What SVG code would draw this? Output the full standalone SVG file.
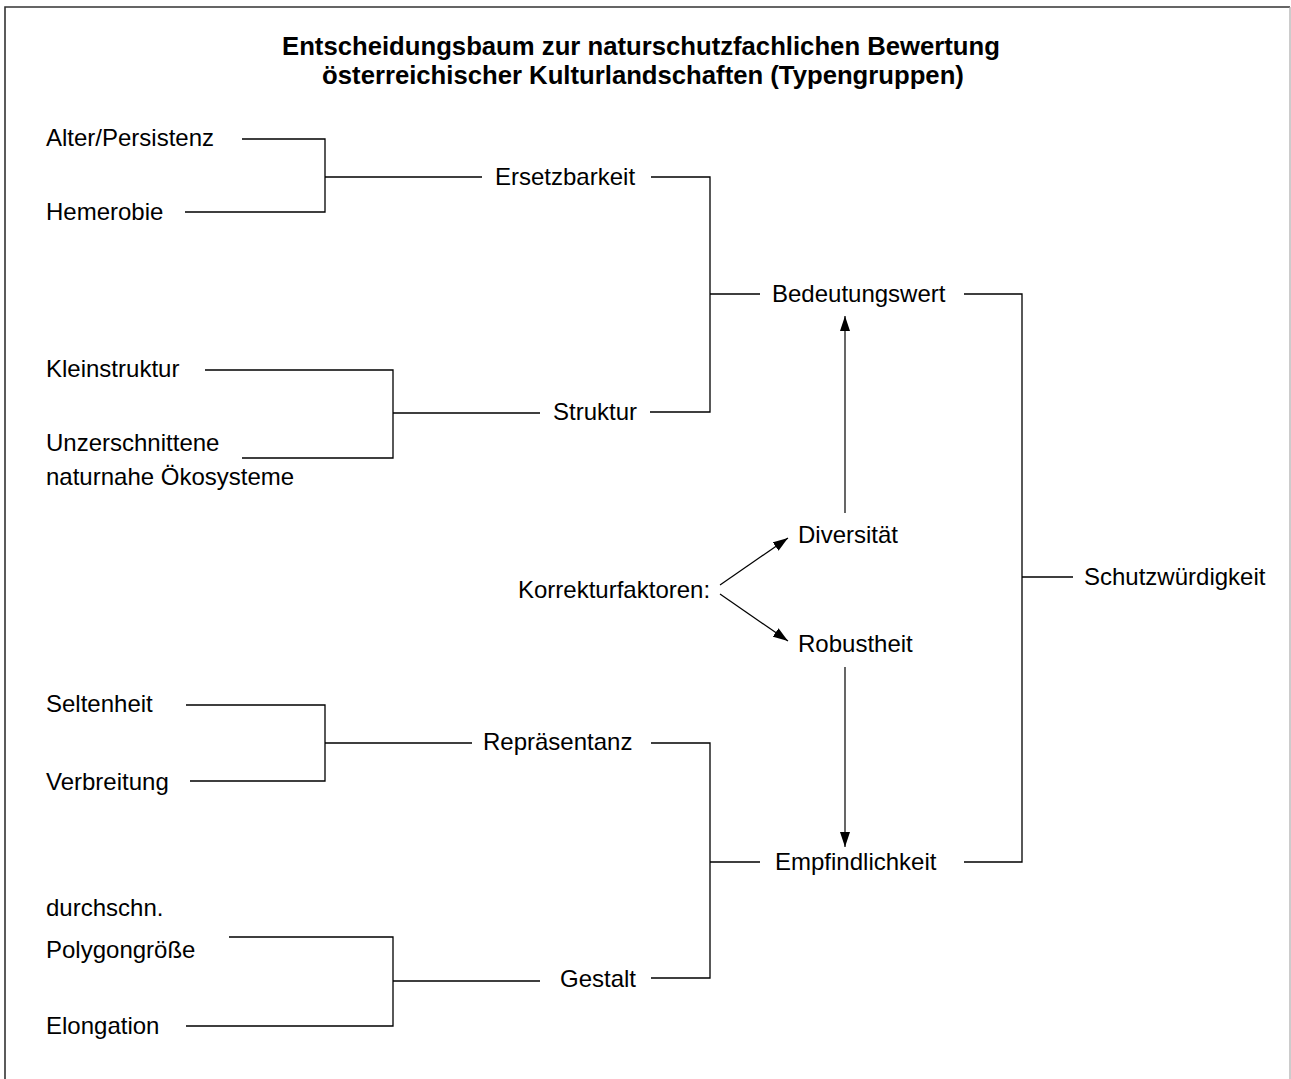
<svg xmlns="http://www.w3.org/2000/svg" width="1291" height="1079" viewBox="0 0 1291 1079">
<style>
text{font-family:"Liberation Sans",Arial,sans-serif;font-size:24px;fill:#000}
.title{font-weight:bold;font-size:25.7px;text-anchor:middle}
.c{stroke:#000;stroke-width:1.3;fill:none}
.a{stroke:#000;stroke-width:1.2;fill:none;marker-end:url(#arr)}
</style>
<defs>
<marker id="arr" markerUnits="userSpaceOnUse" markerWidth="15" markerHeight="10" refX="15" refY="5" orient="auto">
<path d="M0,0 L15,5 L0,10 z" fill="#000"/>
</marker>
</defs>
<rect x="0" y="0" width="1291" height="1079" fill="#fff"/>
<g id="frame">
<path d="M5,1079V7H1290" fill="none" stroke="#333" stroke-width="1.6"/>
<path d="M1290,7V1079" fill="none" stroke="#aaa" stroke-width="1.2"/>
</g>
<g id="title">
<text class="title" x="641" y="55">Entscheidungsbaum zur naturschutzfachlichen Bewertung</text>
<text class="title" x="643" y="84">österreichischer Kulturlandschaften (Typengruppen)</text>
</g>
<g id="connectors">
<path class="c" d="M242,139H325V212H185M325,177H482"/>
<path class="c" d="M205,370H393V458H242M393,413H540"/>
<path class="c" d="M651,177H710V412H650M710,294H760"/>
<path class="c" d="M964,294H1022V862H964M1022,577H1073"/>
<path class="c" d="M186,705H325V781H190M325,743H472"/>
<path class="c" d="M229,937H393V1026H186M393,981H540"/>
<path class="c" d="M651,743H710V978H651M710,862H760"/>
<line class="a" x1="845" y1="513" x2="845" y2="316"/>
<line class="a" x1="845" y1="667" x2="845" y2="847"/>
<line class="a" x1="720" y1="585" x2="788" y2="538"/>
<line class="a" x1="720" y1="594" x2="788" y2="641"/>
</g>
<g id="alter"><text x="46" y="146">Alter/Persistenz</text></g>
<g id="hemerobie"><text x="46" y="220">Hemerobie</text></g>
<g id="ersetzbarkeit"><text x="495" y="185">Ersetzbarkeit</text></g>
<g id="kleinstruktur"><text x="46" y="377">Kleinstruktur</text></g>
<g id="unzerschnittene"><text x="46" y="451">Unzerschnittene</text><text x="46" y="485">naturnahe Ökosysteme</text></g>
<g id="struktur"><text x="553" y="420">Struktur</text></g>
<g id="bedeutungswert"><text x="772" y="302">Bedeutungswert</text></g>
<g id="schutzwuerdigkeit"><text x="1084" y="585">Schutzwürdigkeit</text></g>
<g id="diversitaet"><text x="798" y="543">Diversität</text></g>
<g id="korrekturfaktoren"><text x="518" y="598">Korrekturfaktoren:</text></g>
<g id="robustheit"><text x="798" y="652">Robustheit</text></g>
<g id="empfindlichkeit"><text x="775" y="870">Empfindlichkeit</text></g>
<g id="seltenheit"><text x="46" y="712">Seltenheit</text></g>
<g id="verbreitung"><text x="46" y="790">Verbreitung</text></g>
<g id="repraesentanz"><text x="483" y="750">Repräsentanz</text></g>
<g id="polygongroesse"><text x="46" y="916">durchschn.</text><text x="46" y="958">Polygongröße</text></g>
<g id="elongation"><text x="46" y="1034">Elongation</text></g>
<g id="gestalt"><text x="560" y="987">Gestalt</text></g>
</svg>
